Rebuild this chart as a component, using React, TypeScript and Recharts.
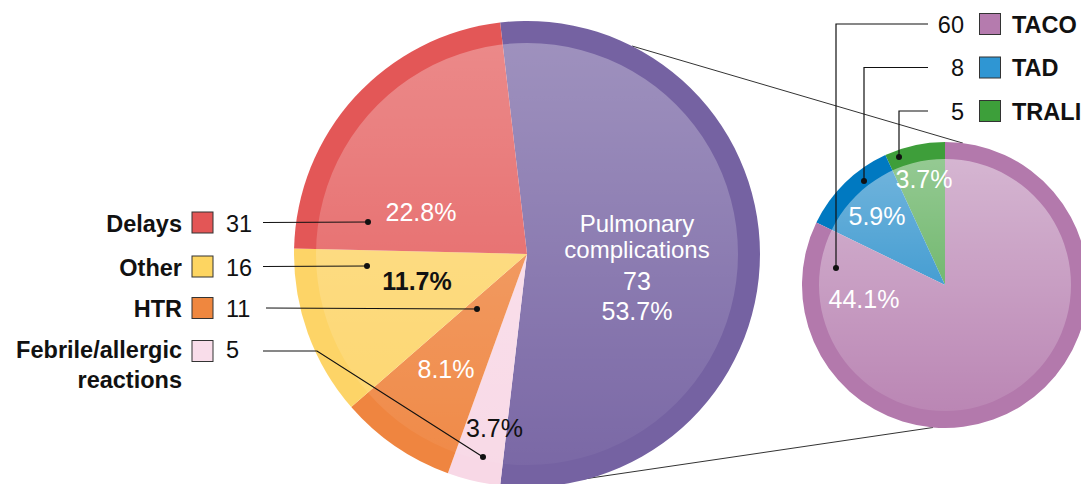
import React from 'react';
import { PieChart, Pie, Cell, Customized } from 'recharts';

// ---------- data ----------
const mainCategories = ['Pulmonary complications', 'Febrile/allergic reactions', 'HTR', 'Other', 'Delays'];
const mainValues = [73, 5, 11, 16, 31];
const mainPercentLabels = ['53.7%', '3.7%', '8.1%', '11.7%', '22.8%'];

const subCategories = ['TRALI', 'TAD', 'TACO'];
const subValues = [5, 8, 60];
const subPercentLabels = ['3.7%', '5.9%', '44.1%'];

// ---------- styles ----------
const mainColors = ['#7562A2', '#F8D8E6', '#EF8540', '#FDD467', '#E35757'];
const legendMainColors = ['#7562A2', '#F9DDEA', '#EF873F', '#FDD561', '#E35656'];
const subColors = ['#3E9E3A', '#0079C1', '#B379AC'];
const legendSubColors = ['#3D9F3A', '#2F96D3', '#B57BAE'];

const FONT = '"Liberation Sans", Arial, Helvetica, sans-serif';
const BIG = { cx: 527, cy: 254, r: 233, ri: 211 };
const SMALL = { cx: 945, cy: 285, r: 143, ri: 126 };

const mainData = mainCategories.map((name, i) => ({ name, value: mainValues[i] }));
const subData = subCategories.map((name, i) => ({ name, value: subValues[i] }));
const mainTotal = mainValues.reduce((a, b) => a + b, 0);
const mainStart = (180 * mainValues[0]) / mainTotal;

const polar = (c: { cx: number; cy: number }, deg: number, r: number) => ({
  x: c.cx + r * Math.cos((deg * Math.PI) / 180),
  y: c.cy - r * Math.sin((deg * Math.PI) / 180),
});

// annotation layout (offsets relative to pie centres)
const mainLabelLayout = [
  null,
  { dx: -32.5, dy: 183, color: '#111', weight: 400 },
  { dx: -81, dy: 124, color: '#fff', weight: 400 },
  { dx: -110, dy: 36, color: '#111', weight: 700 },
  { dx: -106, dy: -33, color: '#fff', weight: 400 },
];
const subLabelLayout = [
  { dx: -21, dy: -97 },
  { dx: -68, dy: -60 },
  { dx: -81, dy: 23 },
];

const leftLegendOrder = [4, 3, 2, 1];
const leftLegendRows = [
  { baseline: 232, cy: 222.5, lineStart: 263, dot: { dx: -159, dy: -32 } },
  { baseline: 276, cy: 266.5, lineStart: 263, dot: { dx: -160, dy: 12 } },
  { baseline: 317, cy: 308, lineStart: 266, dot: { dx: -50, dy: 55 } },
  { baseline: 358, cy: 351, lineStart: 263, bendX: 317, dot: { dx: -44, dy: 203 } },
];
const rightLegendOrder = [2, 1, 0];
const rightLegendRows = [
  { baseline: 32.5, cy: 24, dot: { dx: -109, dy: -17 } },
  { baseline: 76, cy: 67.5, dot: { dx: -81, dy: -104 } },
  { baseline: 119.5, cy: 111, dot: { dx: -46, dy: -128 } },
];

const Connectors = () => {
  const a1 = polar(BIG, 63.2, BIG.r);
  const b1 = polar(SMALL, 82.8, SMALL.r);
  const a2 = polar(BIG, -76, BIG.r - 1);
  const b2 = polar(SMALL, 265.2, SMALL.r);
  return (
    <g>
      <line x1={a1.x} y1={a1.y} x2={b1.x} y2={b1.y} stroke="#333" strokeWidth={1} />
      <line x1={a2.x} y1={a2.y} x2={b2.x} y2={b2.y} stroke="#333" strokeWidth={1} />
    </g>
  );
};

const Annotations = () => {
  const legendNames: Record<number, string[]> = {
    4: ['Delays'],
    3: ['Other'],
    2: ['HTR'],
    1: ['Febrile/allergic', 'reactions'],
  };
  const px = BIG.cx + 110;
  return (
    <g fontFamily={FONT}>
      {mainLabelLayout.map((l, i) =>
        l ? (
          <text
            key={'ml' + i}
            x={BIG.cx + l.dx}
            y={BIG.cy + l.dy}
            textAnchor="middle"
            fontSize={25}
            fill={l.color}
            fontWeight={l.weight}
          >
            {mainPercentLabels[i]}
          </text>
        ) : null
      )}
      <text x={px} y={BIG.cy - 22} textAnchor="middle" fontSize={24} fill="#fff">Pulmonary</text>
      <text x={px} y={BIG.cy + 4} textAnchor="middle" fontSize={24} fill="#fff">complications</text>
      <text x={px} y={BIG.cy + 36} textAnchor="middle" fontSize={25} fill="#fff">{String(mainValues[0])}</text>
      <text x={px} y={BIG.cy + 66} textAnchor="middle" fontSize={25} fill="#fff">{mainPercentLabels[0]}</text>
      {subLabelLayout.map((l, i) => (
        <text
          key={'sl' + i}
          x={SMALL.cx + l.dx}
          y={SMALL.cy + l.dy}
          textAnchor="middle"
          fontSize={25}
          fill="#fff"
        >
          {subPercentLabels[i]}
        </text>
      ))}
      {leftLegendOrder.map((idx, row) => {
        const r = leftLegendRows[row];
        const names = legendNames[idx];
        const dot = { x: BIG.cx + r.dot.dx, y: BIG.cy + r.dot.dy };
        const pts =
          r.bendX !== undefined
            ? `${r.lineStart},${r.cy} ${r.bendX},${r.cy} ${dot.x},${dot.y}`
            : `${r.lineStart},${r.cy} ${dot.x},${dot.y}`;
        return (
          <g key={'lg' + idx}>
            {names.map((n, k) => (
              <text
                key={k}
                x={182}
                y={r.baseline + k * 30}
                textAnchor="end"
                fontSize={23.5}
                fontWeight={700}
                fill="#111"
              >
                {n}
              </text>
            ))}
            <rect x={192} y={r.cy - 10.5} width={21} height={21} fill={legendMainColors[idx]} stroke="#333" strokeWidth={1} />
            <text x={226} y={r.baseline} fontSize={23.5} fill="#111">
              {String(mainValues[idx])}
            </text>
            <polyline points={pts} fill="none" stroke="#111" strokeWidth={1.2} />
            <circle cx={dot.x} cy={dot.y} r={3} fill="#111" />
          </g>
        );
      })}
      {rightLegendOrder.map((idx, row) => {
        const r = rightLegendRows[row];
        const dot = { x: SMALL.cx + r.dot.dx, y: SMALL.cy + r.dot.dy };
        const pts = `928,${r.cy} ${dot.x},${r.cy} ${dot.x},${dot.y}`;
        return (
          <g key={'rg' + idx}>
            <text x={964} y={r.baseline} textAnchor="end" fontSize={23.5} fill="#111">
              {String(subValues[idx])}
            </text>
            <rect x={979.5} y={r.cy - 10.5} width={21} height={21} fill={legendSubColors[idx]} stroke="#333" strokeWidth={1} />
            <text x={1012} y={r.baseline} fontSize={23.5} fontWeight={700} fill="#111">
              {subCategories[idx]}
            </text>
            <polyline points={pts} fill="none" stroke="#111" strokeWidth={1.2} />
            <circle cx={dot.x} cy={dot.y} r={3} fill="#111" />
          </g>
        );
      })}
    </g>
  );
};

export default function App() {
  return (
    <div style={{ position: 'absolute', left: 0, top: 0, width: 1081, height: 484, background: '#fff', overflow: 'hidden' }}>
      <svg width={0} height={0} style={{ position: 'absolute' }}>
        <defs>
          <linearGradient id="bigShine" gradientUnits="userSpaceOnUse" x1={0} y1={BIG.cy - BIG.ri} x2={0} y2={BIG.cy + BIG.ri}>
            <stop offset="0%" stopColor="#fff" stopOpacity={0.3} />
            <stop offset="100%" stopColor="#fff" stopOpacity={0.04} />
          </linearGradient>
          <linearGradient id="smallShine" gradientUnits="userSpaceOnUse" x1={0} y1={SMALL.cy - SMALL.ri} x2={0} y2={SMALL.cy + SMALL.ri}>
            <stop offset="0%" stopColor="#fff" stopOpacity={0.45} />
            <stop offset="100%" stopColor="#fff" stopOpacity={0.1} />
          </linearGradient>
        </defs>
      </svg>
      <PieChart width={1081} height={484} margin={{ top: 0, right: 0, bottom: 0, left: 0 }}>
        <Customized component={Connectors} />
        <Pie
          data={mainData}
          dataKey="value"
          nameKey="name"
          cx={BIG.cx}
          cy={BIG.cy}
          innerRadius={0}
          outerRadius={BIG.r}
          startAngle={mainStart}
          endAngle={mainStart - 360}
          stroke="none"
          isAnimationActive={false}
        >
          {mainData.map((d, i) => (
            <Cell key={d.name} fill={mainColors[i]} />
          ))}
        </Pie>
        <Pie
          data={[{ name: 'shine', value: 1 }]}
          dataKey="value"
          cx={BIG.cx}
          cy={BIG.cy}
          innerRadius={0}
          outerRadius={BIG.ri}
          startAngle={90}
          endAngle={-270}
          stroke="none"
          fill="url(#bigShine)"
          isAnimationActive={false}
        />
        <Pie
          data={subData}
          dataKey="value"
          nameKey="name"
          cx={SMALL.cx}
          cy={SMALL.cy}
          innerRadius={0}
          outerRadius={SMALL.r}
          startAngle={90}
          endAngle={450}
          stroke="none"
          isAnimationActive={false}
        >
          {subData.map((d, i) => (
            <Cell key={d.name} fill={subColors[i]} />
          ))}
        </Pie>
        <Pie
          data={[{ name: 'shine2', value: 1 }]}
          dataKey="value"
          cx={SMALL.cx}
          cy={SMALL.cy}
          innerRadius={0}
          outerRadius={SMALL.ri}
          startAngle={90}
          endAngle={-270}
          stroke="none"
          fill="url(#smallShine)"
          isAnimationActive={false}
        />
      </PieChart>
      <svg
        width={1081}
        height={484}
        style={{ position: 'absolute', left: 0, top: 0, pointerEvents: 'none' }}
      >
        <Annotations />
      </svg>
    </div>
  );
}
